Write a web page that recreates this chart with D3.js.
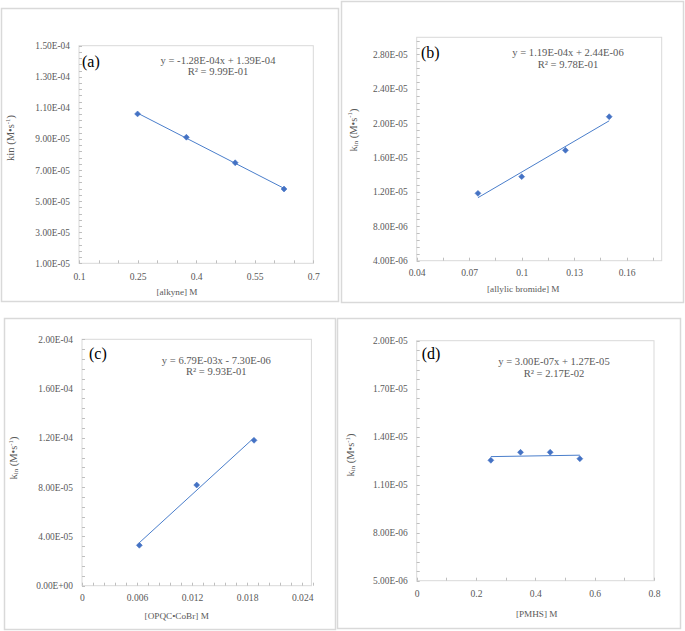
<!DOCTYPE html>
<html><head><meta charset="utf-8">
<script src="https://cdn.jsdelivr.net/npm/d3@7/dist/d3.min.js"></script>
<style>
html,body{margin:0;padding:0;background:#fff;}
svg{display:block;font-family:"Liberation Serif","Times New Roman",serif;}
</style></head><body>
<svg id="chart" width="685" height="631"></svg>
<script>
// ---- data ----
const xA = [0.25, 0.375, 0.5, 0.625];
const yA = [1.061e-4, 9.11e-5, 7.47e-5, 5.78e-5];
const xB = [0.075, 0.1, 0.125, 0.15];
const yB = [1.184e-5, 1.378e-5, 1.685e-5, 2.076e-5];
const xC = [0.00625, 0.0125, 0.01875];
const yC = [3.28e-5, 8.17e-5, 1.18e-4];
const xD = [0.25, 0.35, 0.45, 0.55];
const yD = [1.2525e-5, 1.3025e-5, 1.3025e-5, 1.2625e-5];

const xTicksA = [0.1, 0.25, 0.4, 0.55, 0.7];
const xTickLabelsA = ["0.1", "0.25", "0.4", "0.55", "0.7"];
const yTicksA = [1e-5, 3e-5, 5e-5, 7e-5, 9e-5, 1.1e-4, 1.3e-4, 1.5e-4];
const yTickLabelsA = ["1.00E-05","3.00E-05","5.00E-05","7.00E-05","9.00E-05","1.10E-04","1.30E-04","1.50E-04"];
const xTicksB = [0.04, 0.07, 0.1, 0.13, 0.16];
const xTickLabelsB = ["0.04", "0.07", "0.1", "0.13", "0.16"];
const yTicksB = [4e-6, 8e-6, 1.2e-5, 1.6e-5, 2e-5, 2.4e-5, 2.8e-5];
const yTickLabelsB = ["4.00E-06","8.00E-06","1.20E-05","1.60E-05","2.00E-05","2.40E-05","2.80E-05"];
const xTicksC = [0, 0.006, 0.012, 0.018, 0.024];
const xTickLabelsC = ["0", "0.006", "0.012", "0.018", "0.024"];
const yTicksC = [0, 4e-5, 8e-5, 1.2e-4, 1.6e-4, 2e-4];
const yTickLabelsC = ["0.00E+00","4.00E-05","8.00E-05","1.20E-04","1.60E-04","2.00E-04"];
const xTicksD = [0, 0.2, 0.4, 0.6, 0.8];
const xTickLabelsD = ["0", "0.2", "0.4", "0.6", "0.8"];
const yTicksD = [5e-6, 8e-6, 1.1e-5, 1.4e-5, 1.7e-5, 2e-5];
const yTickLabelsD = ["5.00E-06","8.00E-06","1.10E-05","1.40E-05","1.70E-05","2.00E-05"];

const panelLabels = ["(a)", "(b)", "(c)", "(d)"];
const equations = ["y = -1.28E-04x + 1.39E-04", "y = 1.19E-04x + 2.44E-06", "y = 6.79E-03x - 7.30E-06", "y = 3.00E-07x + 1.27E-05"];
const rSquared = ["R² = 9.99E-01", "R² = 9.78E-01", "R² = 9.93E-01", "R² = 2.17E-02"];
const xTitles = ["[alkyne] M", "[allylic bromide] M", "[OPQC•CoBr] M", "[PMHS] M"];

// ---- layout ----
const panels = [
  {xs:xA, ys:yA, xt:xTicksA, xl:xTickLabelsA, yt:yTicksA, yl:yTickLabelsA,
   xdom:[0.1,0.7], ydom:[1e-5,1.5e-4], xminor:0.05, yminor:4e-6,
   frame:[1,8,338,301], plot:[79,45.7,313.3,263.3],
   eq:[218,60], lab:[82,61.5], xtY:276, ytitle:[10,138], sub:false, xtitle:[177,292]},
  {xs:xB, ys:yB, xt:xTicksB, xl:xTickLabelsB, yt:yTicksB, yl:yTickLabelsB,
   xdom:[0.04,0.18], ydom:[4e-6,3e-5], xminor:0.015, yminor:8e-7,
   frame:[341,1,683,302], plot:[416.7,37.3,661.7,260.7],
   eq:[568,52.7], lab:[421,52.7], xtY:272.7, ytitle:[352.7,130], sub:true, xtitle:[523.3,289]},
  {xs:xC, ys:yC, xt:xTicksC, xl:xTickLabelsC, yt:yTicksC, yl:yTickLabelsC,
   xdom:[0,0.025], ydom:[0,2e-4], xminor:0.0012, yminor:8e-6,
   frame:[4,318,335,629], plot:[82,339.3,311.4,585.7],
   eq:[216.3,360], lab:[89,353.3], xtY:597.3, ytitle:[13.3,458], sub:true, xtitle:[176.7,615.7]},
  {xs:xD, ys:yD, xt:xTicksD, xl:xTickLabelsD, yt:yTicksD, yl:yTickLabelsD,
   xdom:[0,0.8], ydom:[5e-6,2e-5], xminor:0.1, yminor:6e-7,
   frame:[337,318,680,628], plot:[416.7,340.7,654,580.7],
   eq:[554,361.7], lab:[421.7,353.3], xtY:593.3, ytitle:[350,455], sub:true, xtitle:[536.7,614]}
];

const svg = d3.select("#chart");
const textCol = "#595959", gridCol = "#d9d9d9", blue = "#4472C4", lineBlue = "#4a7ecb";
const yTickFs = 9.4, xTickFs = 9.6, eqFs = 10.6, xTitleFs = 9.2, yTitleFs = 10.5, labFs = 16;

function linfit(xs, ys) {
  const n = xs.length, mx = d3.mean(xs), my = d3.mean(ys);
  let sxy = 0, sxx = 0;
  for (let i = 0; i < n; i++) { sxy += (xs[i]-mx)*(ys[i]-my); sxx += (xs[i]-mx)**2; }
  const m = sxy/sxx; return {m, b: my - m*mx};
}

panels.forEach((p, i) => {
  const g = svg.append("g");
  const [fx0, fy0, fx1, fy1] = p.frame;
  g.append("rect").attr("x", fx0+0.5).attr("y", fy0+0.5).attr("width", fx1-fx0).attr("height", fy1-fy0)
    .attr("fill", "#fff").attr("stroke", gridCol).attr("stroke-width", 1.5);
  const [px0, py0, px1, py1] = p.plot;
  const x = d3.scaleLinear().domain(p.xdom).range([px0, px1]);
  const y = d3.scaleLinear().domain(p.ydom).range([py1, py0]);
  g.append("rect").attr("x", px0).attr("y", py0).attr("width", px1-px0).attr("height", py1-py0)
    .attr("fill", "none").attr("stroke", gridCol).attr("stroke-width", 1);

  // minor ticks (inside)
  const xMinor = d3.range(Math.round((p.xdom[1]-p.xdom[0])/p.xminor + 1e-6) + 1).map(k => p.xdom[0] + k*p.xminor);
  const yMinor = d3.range(Math.floor((p.ydom[1]-p.ydom[0])/p.yminor + 1e-6) + 1).map(k => p.ydom[0] + k*p.yminor);
  const tg = g.append("g").attr("stroke", "#bfbfbf").attr("stroke-width", 1);
  xMinor.forEach(v => tg.append("line").attr("x1", Math.round(x(v))+0.5).attr("x2", Math.round(x(v))+0.5)
      .attr("y1", py1).attr("y2", py1-3));
  yMinor.forEach(v => tg.append("line").attr("y1", Math.round(y(v))+0.5).attr("y2", Math.round(y(v))+0.5)
      .attr("x1", px0).attr("x2", px0+3));

  // axes via d3 axis (labels only)
  const xAxis = d3.axisBottom(x).tickValues(p.xt).tickFormat((d, k) => p.xl[k]).tickSize(0).tickPadding(0);
  const gx = g.append("g").attr("transform", `translate(0,${p.xtY})`).call(xAxis);
  gx.attr("font-family", null);
  gx.select(".domain").remove();
  gx.selectAll("text").attr("dy", null).attr("y", 0).attr("dominant-baseline", "central")
    .attr("fill", textCol).attr("font-size", xTickFs).attr("font-family", "Liberation Serif");
  const yAxis = d3.axisLeft(y).tickValues(p.yt).tickFormat((d, k) => p.yl[k]).tickSize(0).tickPadding(9);
  const gy = g.append("g").attr("transform", `translate(${px0},0)`).call(yAxis);
  gy.attr("font-family", null);
  gy.select(".domain").remove();
  gy.selectAll("text").attr("dy", null).attr("dominant-baseline", "central")
    .attr("fill", textCol).attr("font-size", yTickFs).attr("font-family", "Liberation Serif");

  // trendline
  const f = linfit(p.xs, p.ys);
  const xmin = d3.min(p.xs), xmax = d3.max(p.xs);
  g.append("line").attr("x1", x(xmin)).attr("y1", y(f.m*xmin+f.b)).attr("x2", x(xmax)).attr("y2", y(f.m*xmax+f.b))
    .attr("stroke", lineBlue).attr("stroke-width", 1);
  // markers
  g.selectAll("path.pt").data(p.xs.map((v, k) => [v, p.ys[k]])).join("path").attr("class", "pt")
    .attr("d", d3.symbol(d3.symbolDiamond2, 22)).attr("transform", d => `translate(${x(d[0])},${y(d[1])})`)
    .attr("fill", blue).attr("stroke", blue).attr("stroke-width", 0.6);

  // equation
  g.append("text").attr("x", p.eq[0]).attr("y", p.eq[1]).attr("text-anchor", "middle").attr("dominant-baseline", "central")
    .attr("font-size", eqFs).attr("fill", textCol).text(equations[i]);
  g.append("text").attr("x", p.eq[0]).attr("y", p.eq[1]+11.5).attr("text-anchor", "middle").attr("dominant-baseline", "central")
    .attr("font-size", eqFs).attr("fill", textCol).text(rSquared[i]);
  // panel label
  g.append("text").attr("x", p.lab[0]).attr("y", p.lab[1]).attr("dominant-baseline", "central")
    .attr("font-size", labFs).attr("fill", "#000").text(panelLabels[i]);
  // x title
  g.append("text").attr("x", p.xtitle[0]).attr("y", p.xtitle[1]).attr("text-anchor", "middle").attr("dominant-baseline", "central")
    .attr("font-size", xTitleFs).attr("fill", textCol).text(xTitles[i]);
  // y title
  const yt = g.append("text").attr("transform", `translate(${p.ytitle[0]},${p.ytitle[1]}) rotate(-90)`)
    .attr("text-anchor", "middle").attr("dominant-baseline", "central").attr("font-size", yTitleFs).attr("fill", textCol);
  if (p.sub) {
    yt.append("tspan").text("k");
    yt.append("tspan").attr("font-size", yTitleFs*0.65).attr("dy", 2).text("in");
    yt.append("tspan").attr("dy", -2).text(" (M•s");
  } else {
    yt.append("tspan").text("kin (M•s");
  }
  yt.append("tspan").attr("font-size", yTitleFs*0.65).attr("dy", -3.5).text("-1");
  yt.append("tspan").attr("dy", 3.5).text(")");
});
</script></body></html>
